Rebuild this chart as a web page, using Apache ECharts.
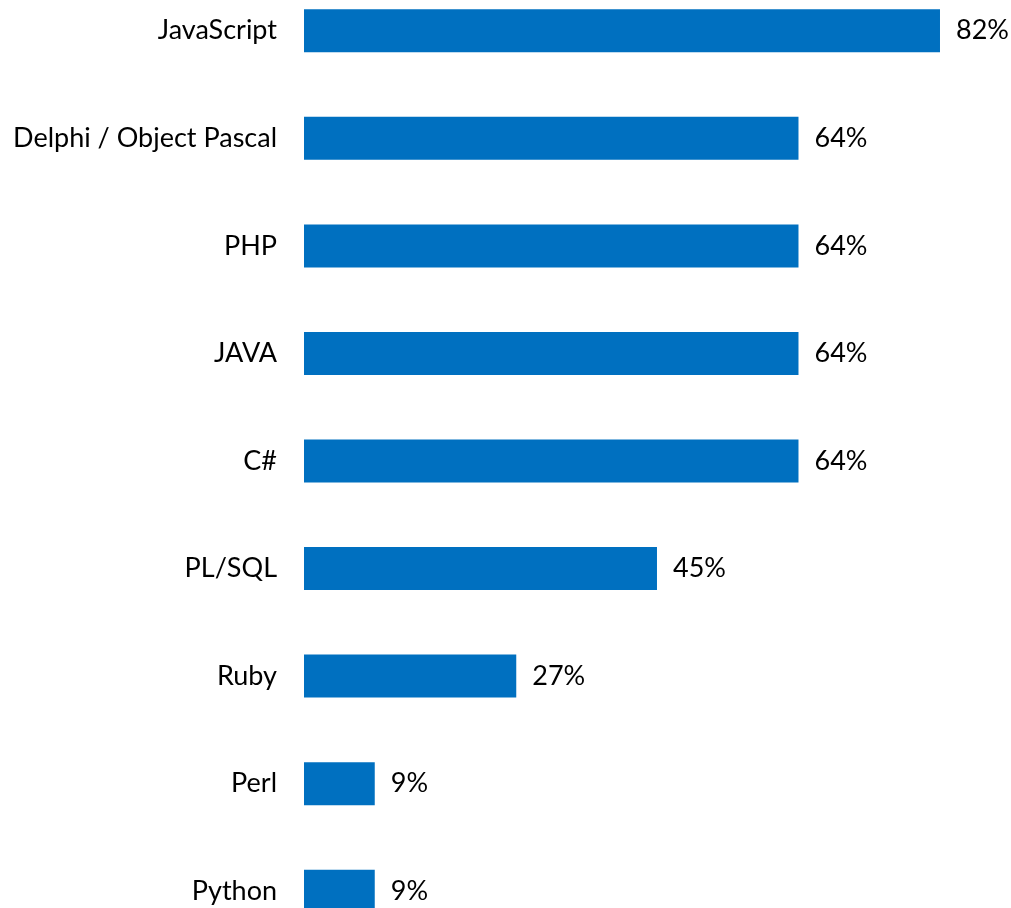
<!DOCTYPE html>
<html>
<head>
<meta charset="utf-8">
<script src="https://cdn.jsdelivr.net/npm/echarts@6/dist/echarts.min.js"></script>
<style>
html,body{margin:0;padding:0;background:#fff;overflow:hidden;width:1011px;height:908px;}
#chart{width:1011px;height:968px;margin-top:-23px;}
</style>
</head>
<body>
<div id="chart"></div>
<script>
const categories = ['JavaScript','Delphi / Object Pascal','PHP','JAVA','C#','PL/SQL','Ruby','Perl','Python'];
const values = [81.8, 63.6, 63.6, 63.6, 63.6, 45.4, 27.3, 9.1, 9.1];

const chart = echarts.init(document.getElementById('chart'));
const font = 'Lato, "Open Sans", sans-serif';
chart.setOption({
  animation: false,
  grid: { left: 304, top: 0, width: 699.75, bottom: 0, containLabel: false },
  xAxis: {
    type: 'value', min: 0, max: 90, show: false
  },
  yAxis: {
    type: 'category', data: categories, inverse: true,
    axisLine: { show: false }, axisTick: { show: false }, splitLine: { show: false },
    axisLabel: { color: '#000', fontFamily: font, fontSize: 27, margin: 27 }
  },
  series: [{
    type: 'bar', data: values, barWidth: 43,
    itemStyle: { color: '#0070C0' },
    label: {
      show: true, position: 'right', distance: 16,
      color: '#000', fontFamily: font, fontSize: 27,
      formatter: p => Math.round(p.value) + '%'
    }
  }]
});
</script>
</body>
</html>
